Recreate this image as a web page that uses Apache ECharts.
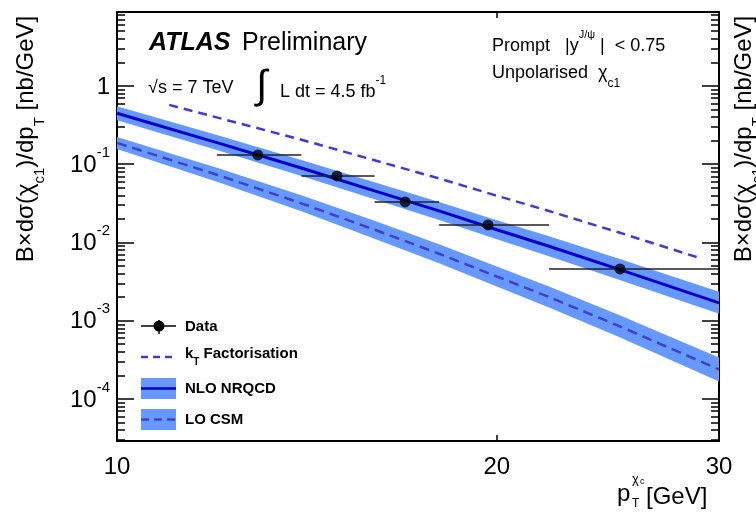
<!DOCTYPE html>
<html><head><meta charset="utf-8">
<script src="https://cdn.jsdelivr.net/npm/echarts@6/dist/echarts.min.js"></script>
<style>html,body{margin:0;padding:0;background:#fff}#c{width:756px;height:520px}</style>
</head><body><div id="c"></div>
<script>
const FONT = '"Liberation Sans", Arial, Helvetica, sans-serif';

// ---- Data ----
const dataX    = [12.93, 14.94, 16.92, 19.68, 25.04];
const dataY    = [0.1313, 0.0708, 0.0329, 0.01674, 0.00459];
const dataXLo  = [12, 14, 16, 18, 22];
const dataXHi  = [14, 16, 18, 22, 30];

const nloX  = [10, 12, 14, 16, 18, 20, 22, 25, 30];
const nloC  = [0.448, 0.1886, 0.0893, 0.04564, 0.02526, 0.01453, 0.00894, 0.00453, 0.00169];
const nloUp = [0.5506, 0.2352, 0.1130, 0.0586, 0.03291, 0.01921, 0.0120, 0.00617, 0.002336];
const nloLo = [0.3645, 0.1512, 0.0706, 0.03554, 0.01939, 0.01099, 0.00666, 0.003326, 0.001223];

const loX  = [10, 12, 14, 16, 18, 20, 22, 25, 30];
const loC  = [0.1869, 0.07331, 0.0316, 0.01453, 0.007171, 0.003666, 0.002006, 0.000854, 0.000238];
const loUp = [0.2230, 0.0901, 0.03997, 0.01893, 0.00948, 0.00492, 0.002732, 0.00118, 0.000339];
const loLo = [0.1567, 0.05965, 0.02498, 0.01115, 0.005424, 0.002732, 0.001473, 0.000618, 0.000167];

const ktX = [11, 14, 16, 18, 20, 22, 25, 29];
const ktY = [0.572, 0.2053, 0.1123, 0.0657, 0.03952, 0.02519, 0.01338, 0.00628];

const xTickLabels = [10, 20, 30];
const xTicks      = [20];
const yTickLabels = [1e-4, 1e-3, 1e-2, 0.1, 1];
const X_MIN = 10, X_MAX = 30, Y_MIN = 2.9e-5, Y_MAX = 8.8;

// minor ticks of the log axis: 2..9 x 10^n
const yMinor = [];
for (let e = -5; e <= 0; e++) for (let k = 2; k <= 9; k++) {
  const v = +(k * Math.pow(10, e)).toPrecision(3);
  if (v > Y_MIN && v < Y_MAX) yMinor.push(v);
}

const bandColor = '#6699ff';
const nloColor = '#0000cc';
const ktColor = '#3c3cdc';
const loColor = '#4040c8';

function yAxisDef(pos, major) {
  return {
    type: 'log', logBase: 10, min: Y_MIN, max: Y_MAX, position: pos,
    axisLine: { show: major, lineStyle: { color: '#000', width: 2 } },
    axisTick: { show: true, inside: true, length: major ? 17 : 8,
      customValues: major ? yTickLabels : yMinor, lineStyle: { color: '#000', width: 1.5 } },
    axisLabel: (major && pos === 'left') ? {
      show: true, customValues: yTickLabels, margin: 7,
      formatter: v => { const e = Math.round(Math.log10(v)); return e === 0 ? '{b|1}' : '{b|10}{s|' + e + '}'; },
      rich: {
        b: { fontSize: 24, fontFamily: FONT, color: '#000', padding: [8, 0, 6, 0] },
        s: { fontSize: 15, fontFamily: FONT, color: '#000', verticalAlign: 'top' }
      }
    } : { show: false },
    splitLine: { show: false }, minorTick: { show: false }
  };
}
function xAxisDef(pos) {
  return {
    type: 'log', logBase: 10, min: X_MIN, max: X_MAX, position: pos,
    axisLine: { show: true, lineStyle: { color: '#000', width: 2 } },
    axisTick: { show: true, inside: true, length: 6, customValues: xTicks, lineStyle: { color: '#000', width: 1.5 } },
    axisLabel: pos === 'bottom' ? { show: true, customValues: xTickLabels, margin: 14,
      fontSize: 24, fontFamily: FONT, color: '#000' } : { show: false },
    splitLine: { show: false }, minorTick: { show: false }
  };
}

function bandSeries(xs, lo, up, c) {
  return {
    type: 'custom', z: 1, silent: true, clip: true,
    data: xs.map((x, i) => [x, lo[i], up[i]]),
    encode: { x: 0, y: [1, 2] },
    renderItem: (params, api) => {
      if (params.dataIndex !== 0) return null;
      const pts = [];
      for (let i = 0; i < xs.length; i++) pts.push(api.coord([xs[i], up[i]]));
      for (let i = xs.length - 1; i >= 0; i--) pts.push(api.coord([xs[i], lo[i]]));
      return { type: 'polygon', shape: { points: pts }, style: { fill: c } };
    }
  };
}

function txt(x, y, text, rich, opts) {
  opts = opts || {};
  return {
    type: 'text', x: x, y: y, rotation: opts.rotation || 0, z: 100, silent: true,
    style: {
      text: text, rich: rich,
      align: opts.align || 'left', textAlign: opts.align || 'left',
      verticalAlign: opts.va || 'middle', textVerticalAlign: opts.va || 'middle'
    }
  };
}
const R = (size, extra) => Object.assign({ fontSize: size, fontFamily: FONT, fill: '#000' }, extra || {});

const yTitleText = '{n|B×dσ(χ}{s|c1}{n|)/dp}{s|T}{n| [nb/GeV]}';
const yTitleRich = { n: R(24, { padding: [0, 0, 9, 0], verticalAlign: 'bottom' }), s: R(15, { verticalAlign: 'bottom' }) };

const graphics = [
  // y-axis titles (left, and cropped copy at right edge)
  txt(31, 139, yTitleText, yTitleRich, { rotation: Math.PI / 2, align: 'center' }),
  txt(749, 139, yTitleText, yTitleRich, { rotation: Math.PI / 2, align: 'center' }),
  // x-axis title
  txt(617, 494, '{n|p}', { n: R(24) }),
  txt(632, 479, '{n|χ}', { n: R(13) }),
  txt(640, 482, '{n|c}', { n: R(9) }),
  txt(632, 504, '{n|T}', { n: R(12) }),
  txt(646, 497, '{n|[GeV]}', { n: R(24) }),
  // ATLAS label
  txt(149, 43, '{n|ATLAS}', { n: R(25, { fontWeight: 'bold', fontStyle: 'italic' }) }),
  txt(242, 43, '{n|Preliminary}', { n: R(25) }),
  txt(148, 88, '{n|√s = 7 TeV}', { n: R(18) }),
  txt(256, 87, '{n|∫}', { n: R(40) }),
  txt(280, 88, '{n|L dt = 4.5 fb}{s|-1}', { n: R(18, { padding: [8, 0, 0, 0], verticalAlign: 'bottom' }), s: R(12, { verticalAlign: 'top' }) }),
  txt(492, 42, '{n|Prompt   |y}{s|J/ψ}{n| |  < 0.75}', { n: R(18, { padding: [8, 0, 0, 0], verticalAlign: 'bottom' }), s: R(11, { verticalAlign: 'top' }) }),
  txt(492, 77, '{n|Unpolarised  χ}{s|c1}', { n: R(18, { padding: [0, 0, 8, 0], verticalAlign: 'bottom' }), s: R(12, { verticalAlign: 'bottom' }) }),
  // legend
  { type: 'line', shape: { x1: 141, y1: 326, x2: 176, y2: 326 }, style: { stroke: '#000', lineWidth: 1.5 }, z: 100 },
  { type: 'line', shape: { x1: 159, y1: 320, x2: 159, y2: 334 }, style: { stroke: '#000', lineWidth: 1.5 }, z: 100 },
  { type: 'circle', shape: { cx: 159, cy: 326, r: 5.5 }, style: { fill: '#000' }, z: 101 },
  txt(185, 327, '{n|Data}', { n: R(15, { fontWeight: 'bold' }) }),
  { type: 'line', shape: { x1: 141, y1: 357, x2: 176, y2: 357 }, style: { stroke: ktColor, lineWidth: 2.5, lineDash: [7, 5] }, z: 100 },
  txt(185, 357, '{n|k}{s|T}{n| Factorisation}', { n: R(15, { fontWeight: 'bold', padding: [0, 0, 6, 0], verticalAlign: 'bottom' }), s: R(10, { fontWeight: 'bold', verticalAlign: 'bottom' }) }),
  { type: 'rect', shape: { x: 141, y: 378, width: 35, height: 21 }, style: { fill: bandColor }, z: 100 },
  { type: 'line', shape: { x1: 141, y1: 388.5, x2: 176, y2: 388.5 }, style: { stroke: nloColor, lineWidth: 2.5 }, z: 101 },
  txt(185, 389, '{n|NLO NRQCD}', { n: R(15, { fontWeight: 'bold' }) }),
  { type: 'rect', shape: { x: 141, y: 409, width: 35, height: 21 }, style: { fill: bandColor }, z: 100 },
  { type: 'line', shape: { x1: 141, y1: 419.5, x2: 176, y2: 419.5 }, style: { stroke: loColor, lineWidth: 2.5, lineDash: [8, 5] }, z: 101 },
  txt(185, 420, '{n|LO CSM}', { n: R(15, { fontWeight: 'bold' }) })
];

const option = {
  animation: false,
  backgroundColor: '#fff',
  grid: { left: 117, right: 37, top: 12, bottom: 79, containLabel: false },
  xAxis: [xAxisDef('bottom'), xAxisDef('top')],
  yAxis: [yAxisDef('left', true), yAxisDef('left', false), yAxisDef('right', true), yAxisDef('right', false)],
  series: [
    bandSeries(nloX, nloLo, nloUp, bandColor),
    bandSeries(loX, loLo, loUp, bandColor),
    { type: 'line', data: nloX.map((x, i) => [x, nloC[i]]), symbol: 'none', silent: true, z: 3,
      lineStyle: { color: nloColor, width: 3 } },
    { type: 'line', data: loX.map((x, i) => [x, loC[i]]), symbol: 'none', silent: true, z: 3,
      lineStyle: { color: loColor, width: 2.5, type: [10, 6] } },
    { type: 'line', data: ktX.map((x, i) => [x, ktY[i]]), symbol: 'none', silent: true, z: 3,
      lineStyle: { color: ktColor, width: 2.5, type: [9, 6] } },
    { type: 'custom', z: 4, silent: true, clip: false,
      data: dataX.map((x, i) => [dataXLo[i], dataXHi[i], dataY[i]]),
      encode: { x: [0, 1], y: 2 },
      renderItem: (params, api) => {
        const a = api.coord([api.value(0), api.value(2)]);
        const b = api.coord([api.value(1), api.value(2)]);
        return { type: 'line', shape: { x1: a[0], y1: a[1], x2: b[0], y2: b[1] },
          style: { stroke: '#222', lineWidth: 1.5 } };
      } },
    { type: 'scatter', data: dataX.map((x, i) => [x, dataY[i]]), symbol: 'circle', symbolSize: 11,
      itemStyle: { color: '#000' }, z: 5, silent: true }
  ],
  graphic: { elements: graphics }
};
const chart = echarts.init(document.getElementById('c'));
chart.setOption(option);
</script>
</body></html>
